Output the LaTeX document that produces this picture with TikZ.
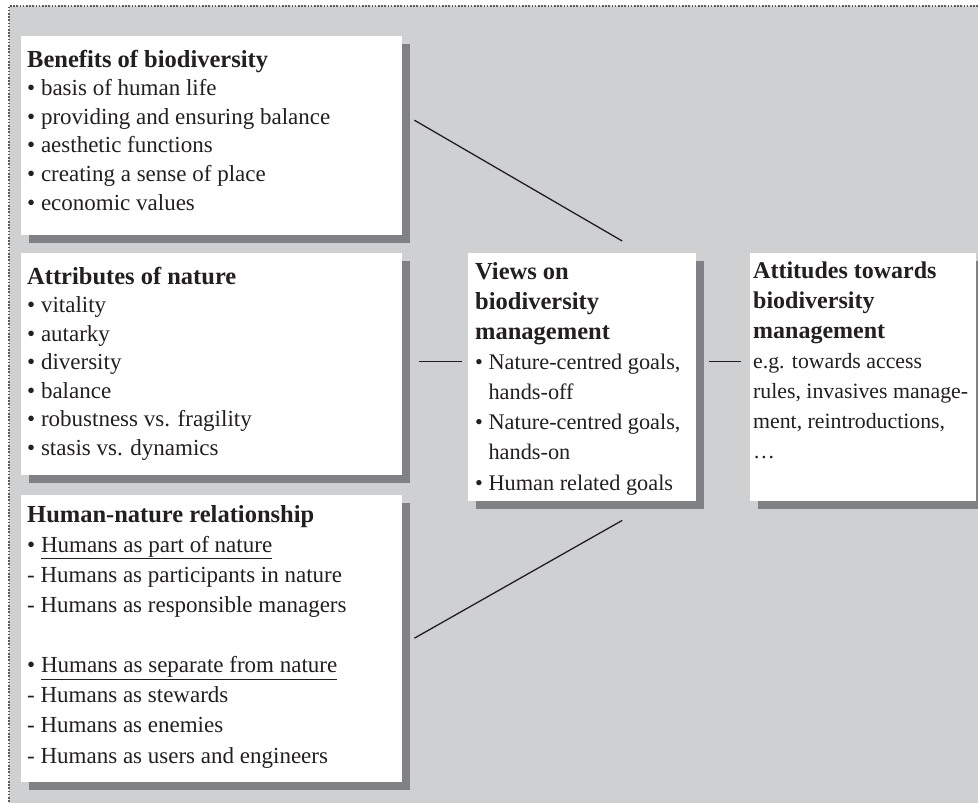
\documentclass[tikz,border=0pt]{standalone}
\usepackage{fontspec}
\setmainfont{Liberation Serif}
\usetikzlibrary{shadows,calc}
\definecolor{bgc}{RGB}{207,208,210}
\definecolor{shc}{RGB}{128,129,133}
\definecolor{inkc}{RGB}{35,31,32}
\definecolor{dotc}{RGB}{90,90,95}
\tikzset{
  panel/.style={fill=white, draw=none, inner sep=0pt, anchor=north west,
    drop shadow={shadow xshift=8pt, shadow yshift=-8pt, fill=shc, opacity=1}},
  txt/.style={anchor=base west, align=left, inner sep=0pt, text=inkc},
  link/.style={draw=inkc, line width=1.3pt},
  frameline/.style={draw=dotc, line width=1.6pt, dash pattern=on 1.6pt off 1.6pt},
}
\newcommand{\bul}{\textbullet\ }
\newcommand{\ind}{\phantom{\textbullet\ }}
\newcommand{\hd}[1]{{\fontsize{24.5}{24.5}\selectfont\bfseries #1}}
\newcommand{\hdsm}[1]{{\fontsize{24}{24}\selectfont\bfseries #1}}
\begin{document}
\begin{tikzpicture}[x=1pt,y=-1pt]
\useasboundingbox (0,0) rectangle (978,803);
\fill[bgc] (9,6) rectangle (978,803);
\draw[frameline] (978,6) -- (9,6) -- (9,803);

% panels
\node[panel, minimum width=381pt, minimum height=199pt] (b1) at (21,36) {};
\node[panel, minimum width=381pt, minimum height=222pt] (b2) at (21,253) {};
\node[panel, minimum width=381pt, minimum height=287pt] (b3) at (21,495) {};
\node[panel, minimum width=228pt, minimum height=248pt] (bv) at (468,253) {};
\node[panel, minimum width=226pt, minimum height=248pt] (ba) at (750,253) {};

% texts (anchor = baseline of the last line)
\node[txt, font=\fontsize{23}{28.6}\selectfont] (t1) at (27,210) {%
\hd{Benefits of biodiversity}\\
\bul basis of human life\\
\bul providing and ensuring balance\\
\bul aesthetic functions\\
\bul creating a sense of place\\
\bul economic values};

\node[txt, font=\fontsize{23}{28.5}\selectfont] (t2) at (27,455) {%
\hd{Attributes of nature}\\
\bul vitality\\
\bul autarky\\
\bul diversity\\
\bul balance\\
\bul robustness vs. fragility\\
\bul stasis vs. dynamics};

\node[txt, font=\fontsize{23}{30.1}\selectfont] (t3) at (27,763) {%
\hd{Human-nature relationship}\\
\bul \underline{Humans as part of nature}\\
- Humans as participants in nature\\
- Humans as responsible managers\\[30.1pt]
\bul \underline{Humans as separate from nature}\\
- Humans as stewards\\
- Humans as enemies\\
- Humans as users and engineers};

\node[txt, font=\fontsize{22.3}{30.1}\selectfont] (tv) at (475,490) {%
\hd{Views on}\\
\hd{biodiversity}\\
\hd{management}\\
\bul Nature-centred goals,\\
\ind hands-off\\
\bul Nature-centred goals,\\
\ind hands-on\\
\bul Human related goals};

\node[txt, font=\fontsize{21.8}{30}\selectfont] (ta) at (753,458) {%
\hdsm{Attitudes towards}\\
\hdsm{biodiversity}\\
\hdsm{management}\\
e.g. towards access\\
rules, invasives manage-\\
ment, reintroductions,\\
\dots};

% connectors
\coordinate (u1) at ($(b1.east)+(12,-15.5)$);
\coordinate (u2) at ($(bv.north)+(40,-12)$);
\coordinate (d1) at ($(b3.east)+(12,-0.5)$);
\coordinate (d2) at ($(bv.south)+(40,19)$);
\coordinate (m1) at ($(b2.east)+(17,-3)$);
\coordinate (m2) at ($(bv.west)+(-6,-16)$);
\coordinate (r1) at ($(bv.east)+(13,-16)$);
\coordinate (r2) at ($(ba.west)+(-9,-16)$);
\draw[link] (u1) -- (u2);
\draw[link] (d1) -- (d2);
\draw[link] (m1) -- (m2);
\draw[link] (r1) -- (r2);
\end{tikzpicture}
\end{document}
